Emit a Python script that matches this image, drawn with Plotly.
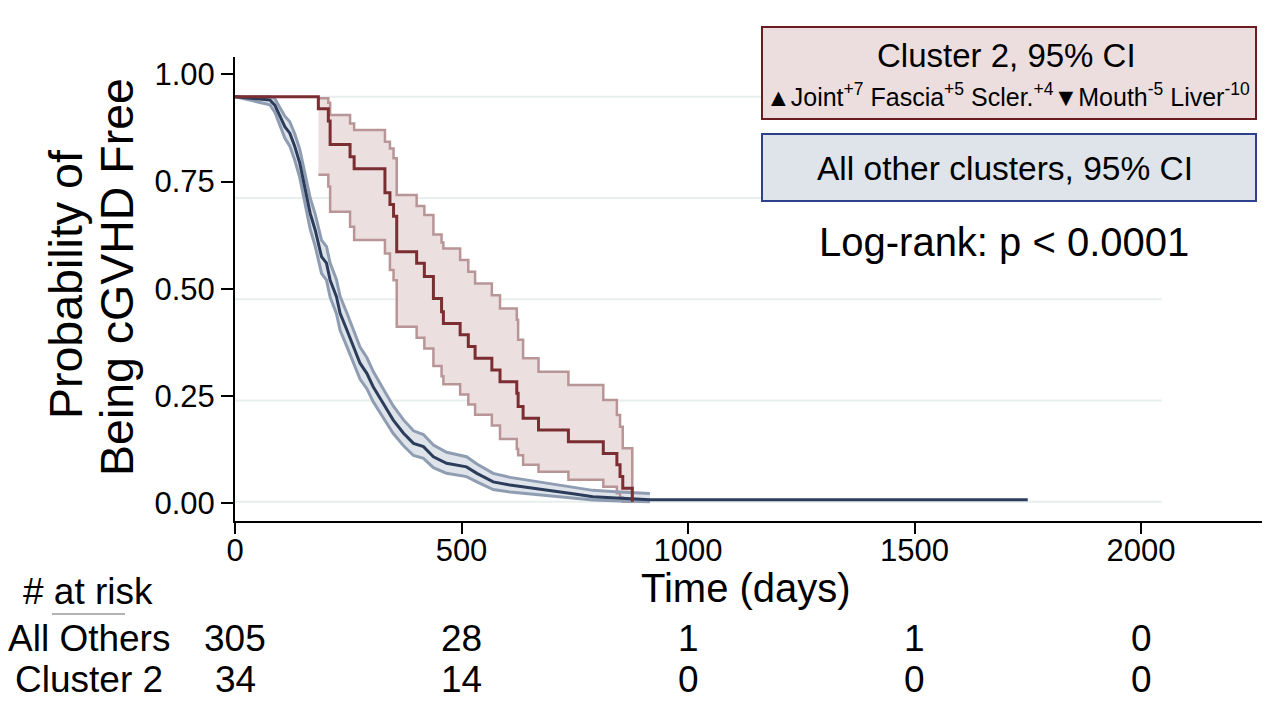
import plotly.graph_objects as go

# ---------------- data ----------------
# Cluster 2 Kaplan-Meier estimate and 95% CI
red_time = [0, 184, 206, 210, 254, 263, 331, 342, 350, 357, 401, 418, 438, 456, 460,
            497, 515, 530, 567, 585, 622, 625, 636, 670, 736, 813, 843, 850, 856, 877]
red_surv = [1.0, 0.970, 0.940, 0.882, 0.852, 0.822, 0.763, 0.734, 0.705, 0.617, 0.589,
            0.556, 0.502, 0.469, 0.440, 0.412, 0.383, 0.354, 0.325, 0.296, 0.268, 0.235,
            0.206, 0.177, 0.148, 0.119, 0.091, 0.062, 0.033, 0.0]
red_ci_time = [184, 206, 210, 254, 263, 331, 342, 350, 357, 401, 418, 438, 456, 460,
               497, 515, 530, 567, 585, 622, 625, 636, 670, 736, 813, 843, 850, 856, 877]
red_upper = [0.996, 0.985, 0.955, 0.934, 0.918, 0.889, 0.872, 0.848, 0.757, 0.730, 0.708,
             0.660, 0.640, 0.625, 0.597, 0.568, 0.539, 0.510, 0.477, 0.449, 0.400, 0.354,
             0.321, 0.288, 0.251, 0.214, 0.185, 0.132, 0.0]
red_lower = [0.807, 0.778, 0.716, 0.679, 0.646, 0.613, 0.572, 0.547, 0.432, 0.405, 0.378,
             0.335, 0.310, 0.290, 0.265, 0.240, 0.215, 0.188, 0.155, 0.130, 0.115, 0.091,
             0.074, 0.054, 0.037, 0.021, 0.010, 0.0, 0.0]

# All other clusters Kaplan-Meier estimate and 95% CI
blue_time = [0, 77, 88, 99, 110, 121, 132, 143, 151, 158, 166, 177, 184, 191, 202, 210,
             224, 232, 247, 261, 276, 291, 305, 327, 349, 372, 394, 416, 438, 467, 511,
             534, 570, 607, 658, 695, 750, 790, 850, 916, 1750]
blue_surv = [1.0, 0.992, 0.979, 0.951, 0.926, 0.910, 0.877, 0.836, 0.794, 0.753, 0.712,
             0.671, 0.638, 0.605, 0.589, 0.547, 0.506, 0.465, 0.424, 0.383, 0.342, 0.317,
             0.284, 0.243, 0.202, 0.169, 0.144, 0.136, 0.111, 0.095, 0.086, 0.070, 0.049,
             0.041, 0.033, 0.029, 0.019, 0.012, 0.008, 0.005, 0.005]
blue_ci_time = [0, 77, 88, 99, 110, 121, 132, 143, 151, 158, 166, 177, 184, 191, 202, 210,
                224, 232, 247, 261, 276, 291, 305, 327, 349, 372, 394, 416, 438, 467, 511,
                534, 570, 607, 658, 695, 750, 790, 850, 916]
blue_upper = [1.0, 1.0, 0.995, 0.972, 0.952, 0.938, 0.908, 0.870, 0.830, 0.790, 0.750,
              0.710, 0.678, 0.646, 0.630, 0.589, 0.548, 0.507, 0.466, 0.424, 0.382, 0.356,
              0.322, 0.279, 0.237, 0.202, 0.175, 0.166, 0.140, 0.122, 0.111, 0.093, 0.070,
              0.060, 0.051, 0.046, 0.035, 0.028, 0.024, 0.020]
blue_lower = [1.0, 0.980, 0.962, 0.928, 0.898, 0.878, 0.843, 0.800, 0.757, 0.715, 0.673,
              0.631, 0.598, 0.564, 0.547, 0.505, 0.464, 0.423, 0.383, 0.343, 0.303, 0.279,
              0.247, 0.208, 0.169, 0.138, 0.114, 0.107, 0.084, 0.070, 0.062, 0.049, 0.030,
              0.024, 0.018, 0.014, 0.008, 0.004, 0.002, 0.0]

x_ticks = [0, 500, 1000, 1500, 2000]
y_ticks = [0.0, 0.25, 0.5, 0.75, 1.0]
y_ticktext = ["0.00", "0.25", "0.50", "0.75", "1.00"]
grid_levels = [0.0, 0.25, 0.5, 0.75, 1.0]
grid_end = 2046

risk_times = [0, 500, 1000, 1500, 2000]
risk_others = [305, 28, 1, 1, 0]
risk_cluster2 = [34, 14, 0, 0, 0]

# ---------------- style ----------------
FONT = "Liberation Sans, Arial, Helvetica, sans-serif"
RED_LINE = "#7b2e31"
RED_CI = "#b89596"
RED_FILL = "#ecdfe0"
BLUE_LINE = "#2b3d5b"
BLUE_CI = "#8f9db3"
BLUE_FILL = "#dfe3ea"
GRID = "#e8eeee"

W, H = 1280, 718
OFF = 8                            # page body margin of the browser
L, R, T, B = 235, 1262, 57, 521    # plot area in window pixels


def px_x(px):
    return (px - L) / (R - L)


def px_y(py):
    return (B - py) / (B - T)


fig = go.Figure()

# invisible anchor trace so that the tick axis is drawn
fig.add_trace(go.Scatter(x=[0], y=[0], mode="markers", marker=dict(opacity=0),
                         hoverinfo="skip"))
# red CI fill
fig.add_trace(go.Scatter(x=red_ci_time, y=red_lower, yaxis="y2", mode="lines",
                         line=dict(width=0, shape="hv"), hoverinfo="skip"))
fig.add_trace(go.Scatter(x=red_ci_time, y=red_upper, yaxis="y2", mode="lines",
                         line=dict(width=0, shape="hv"), fill="tonexty",
                         fillcolor=RED_FILL, hoverinfo="skip"))
# blue CI fill
fig.add_trace(go.Scatter(x=blue_ci_time, y=blue_lower, yaxis="y2", mode="lines",
                         line=dict(width=0), hoverinfo="skip"))
fig.add_trace(go.Scatter(x=blue_ci_time, y=blue_upper, yaxis="y2", mode="lines",
                         line=dict(width=0), fill="tonexty",
                         fillcolor=BLUE_FILL, hoverinfo="skip"))
# CI lines
for ys in (red_lower, red_upper):
    fig.add_trace(go.Scatter(x=red_ci_time, y=ys, yaxis="y2", mode="lines",
                             line=dict(color=RED_CI, width=2.5, shape="hv")))
for ys in (blue_lower, blue_upper):
    fig.add_trace(go.Scatter(x=blue_ci_time, y=ys, yaxis="y2", mode="lines",
                             line=dict(color=BLUE_CI, width=3)))
# main lines
fig.add_trace(go.Scatter(x=blue_time, y=blue_surv, yaxis="y2", mode="lines",
                         line=dict(color=BLUE_LINE, width=3)))
fig.add_trace(go.Scatter(x=red_time, y=red_surv, yaxis="y2", mode="lines",
                         line=dict(color=RED_LINE, width=3, shape="hv")))

shapes = []
for g in grid_levels:
    shapes.append(dict(type="line", xref="x", yref="y2", x0=0, x1=grid_end, y0=g, y1=g,
                       line=dict(color=GRID, width=2), layer="below"))
# legend boxes
shapes.append(dict(type="rect", xref="paper", yref="paper",
                   x0=px_x(762), x1=px_x(1256), y0=px_y(119), y1=px_y(27),
                   fillcolor="#ecdedf", line=dict(color="#6b1c21", width=2)))
shapes.append(dict(type="rect", xref="paper", yref="paper",
                   x0=px_x(762), x1=px_x(1256), y0=px_y(201), y1=px_y(134),
                   fillcolor="#dfe3ea", line=dict(color="#2e3f8c", width=2)))
# underline of "at risk"
shapes.append(dict(type="line", xref="paper", yref="paper",
                   x0=px_x(52), x1=px_x(125), y0=px_y(614), y1=px_y(614),
                   line=dict(color="#9a9a9a", width=1.5)))

ann = []


def txt(text, px, py, size, **kw):
    d = dict(text=text, xref="paper", yref="paper", x=px_x(px), y=px_y(py),
             xanchor="center", yanchor="middle", showarrow=False,
             font=dict(family=FONT, size=size, color="black"))
    d.update(kw)
    ann.append(d)


txt("Cluster 2, 95% CI", 1006, 56, 33)
txt("▲Joint<sup>+7</sup> Fascia<sup>+5</sup> Scler.<sup>+4</sup>▼Mouth<sup>-5</sup> Liver<sup>-10</sup>",
    1008, 95, 25)
txt("All other clusters, 95% CI", 1005, 168, 33.5)
txt("Log-rank: p < 0.0001", 1004, 242, 40)
txt("Probability of", 66, 285, 46.5, textangle=-90)
txt("Being cGVHD Free", 117, 277, 46.5, textangle=-90)
txt("Time (days)", 746, 588, 40)
txt("# at risk", 88, 591, 37)
txt("All Others", 89, 638, 37)
txt("Cluster 2", 89, 679, 37)
for t, a, c in zip(risk_times, risk_others, risk_cluster2):
    ann.append(dict(text=str(a), xref="x", yref="paper", x=t, y=px_y(638),
                    xanchor="center", yanchor="middle", showarrow=False,
                    font=dict(family=FONT, size=37, color="black")))
    ann.append(dict(text=str(c), xref="x", yref="paper", x=t, y=px_y(679),
                    xanchor="center", yanchor="middle", showarrow=False,
                    font=dict(family=FONT, size=37, color="black")))

x_max = (R - L) / ((1141 - 235) / 2000)
y_lo = (503.3 - B) / (503.3 - 74.3)
y_hi = (503.3 - T) / (503.3 - 74.3)
y2_lo = (501.7 - B) / (501.7 - 96.7)
y2_hi = (501.7 - T) / (501.7 - 96.7)

fig.update_layout(
    width=W - OFF, height=H - OFF,
    margin=dict(l=L - OFF, r=W - R, t=T - OFF, b=H - B, pad=0, autoexpand=False),
    paper_bgcolor="white", plot_bgcolor="white",
    showlegend=False,
    font=dict(family=FONT, color="black"),
    xaxis=dict(range=[0, x_max], tickvals=x_ticks, ticks="outside", ticklen=11,
               tickwidth=2, tickcolor="black", showline=True, linecolor="black",
               linewidth=2, showgrid=False, zeroline=False, automargin=False,
               ticklabelstandoff=-10,
               tickfont=dict(family=FONT, size=31, color="black")),
    yaxis=dict(range=[y_lo, y_hi], tickvals=y_ticks, ticktext=y_ticktext,
               ticks="outside", ticklen=12, tickwidth=2, tickcolor="black",
               showline=True, linecolor="black", linewidth=2, showgrid=False,
               zeroline=False, automargin=False,
               tickfont=dict(family=FONT, size=31, color="black")),
    yaxis2=dict(range=[y2_lo, y2_hi], overlaying="y", visible=False,
                showgrid=False, zeroline=False),
    shapes=shapes,
    annotations=ann,
)

fig.write_html("out.html")
